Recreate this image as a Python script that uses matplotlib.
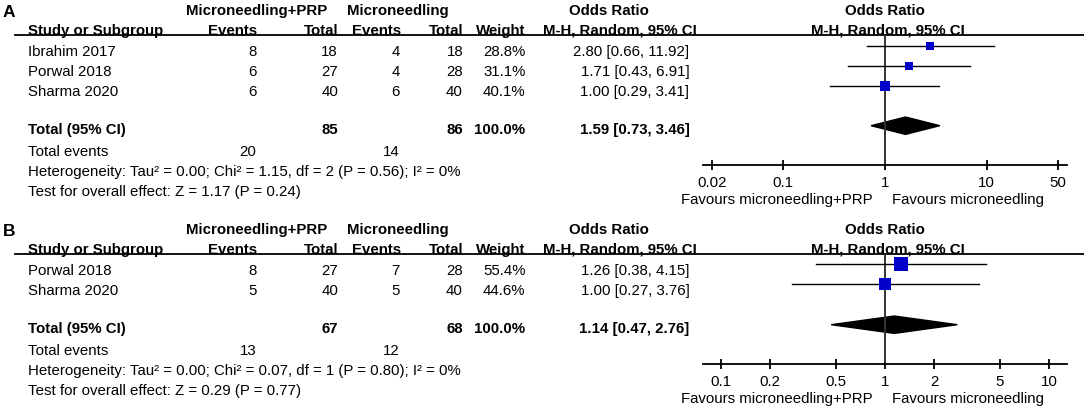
import matplotlib
matplotlib.use('Agg')
import matplotlib.pyplot as plt
from matplotlib.patches import Polygon
import numpy as np

plt.rcParams['font.family'] = ['Liberation Sans', 'DejaVu Sans']

# ---- data, panel A ----
studies_a = ['Ibrahim 2017', 'Porwal 2018', 'Sharma 2020']
ev_prp_a = [8, 6, 6]
tot_prp_a = [18, 27, 40]
ev_mn_a = [4, 4, 6]
tot_mn_a = [18, 28, 40]
weight_a = [28.8, 31.1, 40.1]
or_a = [2.80, 1.71, 1.00]
lo_a = [0.66, 0.43, 0.29]
hi_a = [11.92, 6.91, 3.41]
total_a = [1.59, 0.73, 3.46]
sum_a = [85, 86]
events_a = [20, 14]
het_a = 'Heterogeneity: Tau² = 0.00; Chi² = 1.15, df = 2 (P = 0.56); I² = 0%'
test_a = 'Test for overall effect: Z = 1.17 (P = 0.24)'
ticks_a = [0.02, 0.1, 1, 10, 50]
ticklabels_a = ['0.02', '0.1', '1', '10', '50']

# ---- data, panel B ----
studies_b = ['Porwal 2018', 'Sharma 2020']
ev_prp_b = [8, 5]
tot_prp_b = [27, 40]
ev_mn_b = [7, 5]
tot_mn_b = [28, 40]
weight_b = [55.4, 44.6]
or_b = [1.26, 1.00]
lo_b = [0.38, 0.27]
hi_b = [4.15, 3.76]
total_b = [1.14, 0.47, 2.76]
sum_b = [67, 68]
events_b = [13, 12]
het_b = 'Heterogeneity: Tau² = 0.00; Chi² = 0.07, df = 1 (P = 0.80); I² = 0%'
test_b = 'Test for overall effect: Z = 0.29 (P = 0.77)'
ticks_b = [0.1, 0.2, 0.5, 1, 2, 5, 10]
ticklabels_b = ['0.1', '0.2', '0.5', '1', '2', '5', '10']

W, H = 1084, 409
FS = 10.8
fig = plt.figure(figsize=(W / 100, H / 100), dpi=100)
bg = fig.add_axes([0, 0, 1, 1])
bg.set_xlim(0, W)
bg.set_ylim(H, 0)
bg.axis('off')


def txt(x, y, s, ha='left', bold=False, size=FS):
    # y = visual centre of the capitals, in pixels from the top
    bg.text(x, y + 0.36 * size / 0.72, s, ha=ha, va='baseline', fontsize=size,
            fontweight='bold' if bold else 'normal', color='black')


def panel(top, label, studies, ev1, n1, ev2, n2, wt, orr, lo, hi, tot,
          sums, events, het, test, ticks, ticklabels, decade_px, sq_k):
    n = len(studies)
    txt(3, top + 11, label, bold=True, size=12.5)
    txt(257, top + 10, 'Microneedling+PRP', ha='center', bold=True)
    txt(397.5, top + 10, 'Microneedling', ha='center', bold=True)
    txt(608.5, top + 10, 'Odds Ratio', ha='center', bold=True)
    txt(885, top + 10, 'Odds Ratio', ha='center', bold=True)
    hy = top + 29.3
    txt(28.3, hy, 'Study or Subgroup', bold=True)
    txt(257.5, hy, 'Events', ha='right', bold=True)
    txt(338.5, hy, 'Total', ha='right', bold=True)
    txt(401.5, hy, 'Events', ha='right', bold=True)
    txt(463.5, hy, 'Total', ha='right', bold=True)
    txt(525.5, hy, 'Weight', ha='right', bold=True)
    txt(620, hy, 'M-H, Random, 95% CI', ha='center', bold=True)
    txt(888, hy, 'M-H, Random, 95% CI', ha='center', bold=True)
    line_y = top + 34.5
    bg.plot([15, W], [line_y, line_y], color='black', lw=1.3)

    rows = [top + 50.5 + 20 * i for i in range(n)]
    for i, y in enumerate(rows):
        txt(28.3, y, studies[i])
        txt(256.5, y, str(ev1[i]), ha='right')
        txt(338, y, str(n1[i]), ha='right')
        txt(400, y, str(ev2[i]), ha='right')
        txt(463, y, str(n2[i]), ha='right')
        txt(525.5, y, '%.1f%%' % wt[i], ha='right')
        txt(689.5, y, '%.2f [%.2f, %.2f]' % (orr[i], lo[i], hi[i]), ha='right')

    ty = top + 50.5 + 20 * n + 18.5
    txt(28.3, ty, 'Total (95% CI)', bold=True)
    txt(338, ty, str(sums[0]), ha='right', bold=True)
    txt(463, ty, str(sums[1]), ha='right', bold=True)
    txt(525.5, ty, '100.0%', ha='right', bold=True)
    txt(689.5, ty, '%.2f [%.2f, %.2f]' % tuple(tot), ha='right', bold=True)
    txt(28.3, ty + 21.5, 'Total events')
    txt(256.5, ty + 21.5, str(events[0]), ha='right')
    txt(400, ty + 21.5, str(events[1]), ha='right')
    txt(28.3, ty + 41.5, het)
    txt(28.3, ty + 61.5, test)

    axis_y = ty + 36
    x0, x1, x_one = 703, 1067, 885
    ax = fig.add_axes([x0 / W, 1 - axis_y / H, (x1 - x0) / W, (axis_y - line_y) / H])
    ax.set_xscale('log')
    ax.set_xlim(10 ** ((x0 - x_one) / decade_px), 10 ** ((x1 - x_one) / decade_px))
    ax.set_ylim(axis_y, line_y)
    ax.patch.set_alpha(0)
    for s in ['top', 'left', 'right']:
        ax.spines[s].set_visible(False)
    ax.spines['bottom'].set_linewidth(1.3)
    ax.set_yticks([])
    ax.set_xticks(ticks)
    ax.set_xticklabels(ticklabels)
    ax.minorticks_off()
    ax.tick_params(axis='x', direction='inout', length=6.5, width=1.3,
                   labelsize=FS, pad=4.7)
    ax.axvline(1, color='#333333', lw=1.4)

    for i, y in enumerate(rows):
        yc = y - 5
        ax.plot([lo[i], hi[i]], [yc, yc], color='black', lw=1)
        side = sq_k * np.sqrt(wt[i]) * 0.72
        ax.plot(orr[i], yc, marker='s', ms=side, color='#0000c8',
                markeredgewidth=0, linestyle='none')
    dy = ty - 3.3
    ax.add_patch(Polygon([(tot[1], dy), (tot[0], dy - 8.7), (tot[2], dy),
                          (tot[0], dy + 8.7)], closed=True, color='black'))

    fy = axis_y + 34
    txt(873, fy, 'Favours microneedling+PRP', ha='right')
    txt(892.5, fy, 'Favours microneedling', ha='left')


panel(0, 'A', studies_a, ev_prp_a, tot_prp_a, ev_mn_a, tot_mn_a, weight_a,
      or_a, lo_a, hi_a, total_a, sum_a, events_a, het_a, test_a,
      ticks_a, ticklabels_a, 101.7, 1.6)
panel(219, 'B', studies_b, ev_prp_b, tot_prp_b, ev_mn_b, tot_mn_b, weight_b,
      or_b, lo_b, hi_b, total_b, sum_b, events_b, het_b, test_b,
      ticks_b, ticklabels_b, 164, 1.8)

fig.savefig('out.png', dpi=100)
